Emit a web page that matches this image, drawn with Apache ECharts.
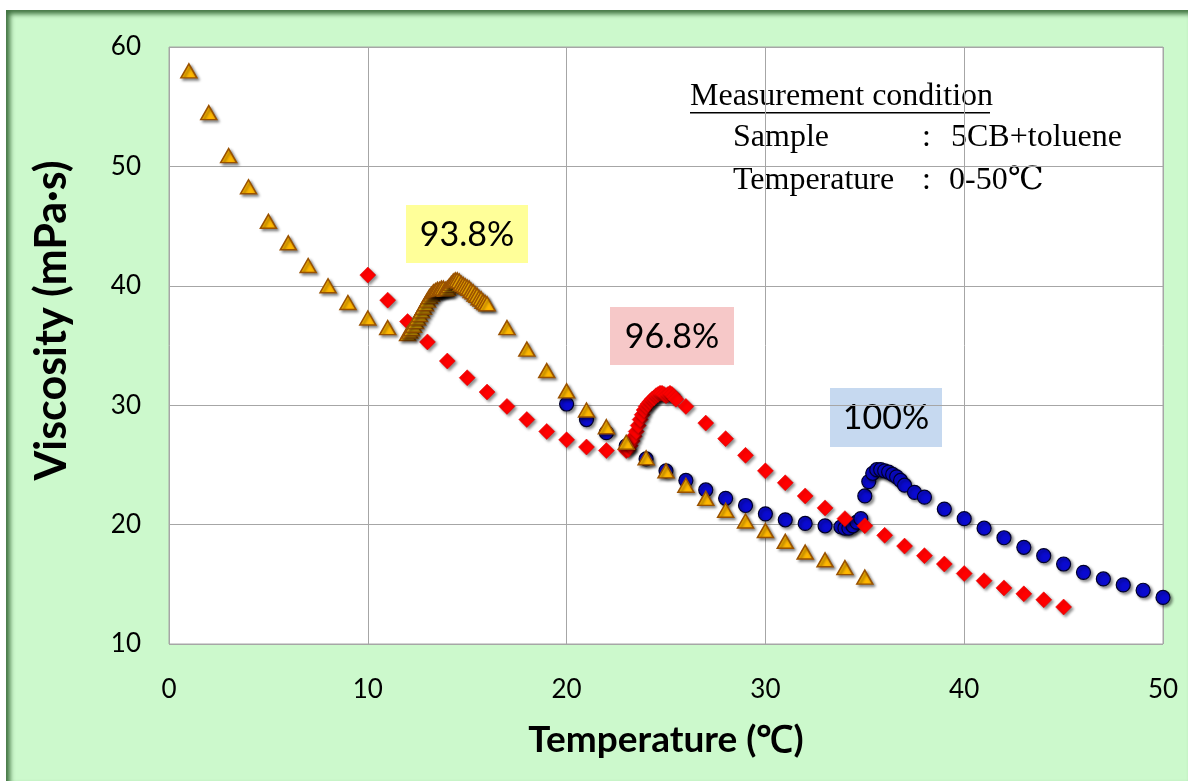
<!DOCTYPE html>
<html>
<head>
<meta charset="utf-8">
<script src="https://cdn.jsdelivr.net/npm/echarts@6/dist/echarts.min.js"></script>
<style>
  html, body { margin:0; padding:0; background:#ffffff; }
  #bg { position:absolute; left:6px; top:10px; width:1182px; height:771px; background:#CCF9CC;
        box-shadow: inset 4px 4px 5px rgba(40,90,40,0.85); }
  #chart { position:absolute; left:0; top:0; width:1188px; height:781px; }
</style>
</head>
<body>
<div id="bg"></div>
<div id="chart"></div>
<script>
// ---- Data ----
const xTicks = [0, 10, 20, 30, 40, 50];
const yTicks = [10, 20, 30, 40, 50, 60];

// 100% (blue circles)
const temp100 = [20,21,22,23,24,25,26,27,28,29,30,31,32,33,33.8,34.0,34.2,34.4,34.6,34.8,35.0,35.2,35.4,35.6,35.8,36.0,36.2,36.4,36.6,36.8,37.0,37.5,38,39,40,41,42,43,44,45,46,47,48,49,50];
const visc100 = [30.1,28.8,27.7,26.6,25.5,24.5,23.7,22.9,22.2,21.6,20.9,20.4,20.1,19.9,19.8,19.7,19.7,19.9,20.2,20.5,22.4,23.6,24.3,24.6,24.6,24.5,24.4,24.2,24.0,23.7,23.3,22.7,22.3,21.3,20.5,19.7,18.9,18.1,17.4,16.7,16.0,15.45,14.95,14.5,13.9];

// 96.8% (red diamonds)
const temp968 = [10,11,12,13,14,15,16,17,18,19,20,21,22,23.0,23.1,23.2,23.3,23.4,23.5,23.6,23.7,23.8,23.9,24.0,24.1,24.2,24.3,24.4,24.5,24.6,24.7,24.8,24.9,25.0,25.1,25.2,25.3,25.4,25.5,26,27,28,29,30,31,32,33,34,35,36,37,38,39,40,41,42,43,44,45];
const visc968 = [40.9,38.8,37.0,35.3,33.7,32.3,31.1,29.9,28.8,27.8,27.1,26.5,26.2,26.2,26.3,26.6,27.0,27.4,27.8,28.3,28.8,29.2,29.6,29.9,30.1,30.3,30.5,30.6,30.8,30.9,31.0,31.0,30.9,30.8,30.9,31.0,30.9,30.7,30.5,29.9,28.5,27.2,25.8,24.5,23.5,22.4,21.4,20.5,19.9,19.1,18.2,17.4,16.7,15.9,15.3,14.7,14.2,13.7,13.1];

// 93.8% (orange triangles)
const temp938 = [1,2,3,4,5,6,7,8,9,10,11,12.0,12.1,12.2,12.3,12.4,12.5,12.6,12.7,12.8,12.9,13.0,13.1,13.2,13.3,13.4,13.5,13.6,13.7,13.8,13.9,14.0,14.1,14.2,14.3,14.4,14.5,14.6,14.7,14.8,14.9,15.0,15.1,15.2,15.3,15.4,15.5,15.6,15.7,15.8,15.9,16,17,18,19,20,21,22,23,24,25,26,27,28,29,30,31,32,33,34,35];
const visc938 = [58.0,54.5,50.9,48.3,45.4,43.6,41.7,40.0,38.6,37.3,36.5,36.0,36.2,36.4,36.7,37.0,37.3,37.6,37.9,38.2,38.5,38.8,39.1,39.3,39.5,39.6,39.7,39.7,39.8,39.8,39.7,39.8,40.0,40.2,40.4,40.5,40.5,40.4,40.2,40.1,40.0,39.9,39.8,39.6,39.5,39.3,39.2,39.0,38.9,38.7,38.6,38.5,36.5,34.7,32.9,31.2,29.6,28.2,26.9,25.6,24.5,23.3,22.2,21.2,20.3,19.5,18.6,17.7,17.05,16.4,15.6];

const seriesNames = ['100%', '96.8%', '93.8%'];

function zip(xs, ys) { return xs.map((x, i) => [x, ys[i]]); }

const shadow = { shadowColor: 'rgba(0,0,0,0.45)', shadowBlur: 3, shadowOffsetX: 2, shadowOffsetY: 2 };
const LATO = 'Lato, "Open Sans", sans-serif';
const SERIF = '"Liberation Serif", "DejaVu Serif", serif';

const chart = echarts.init(document.getElementById('chart'));

function boxLabel(x, y, w, h, fill, text) {
  return {
    type: 'group', left: x, top: y,
    children: [
      { type: 'rect', shape: { x: 0, y: 0, width: w, height: h }, style: { fill: fill } },
      { type: 'text', x: w / 2, y: h / 2 + 1,
        style: { text: text, font: '34px ' + LATO, fill: '#000', textAlign: 'center', textVerticalAlign: 'middle' } }
    ]
  };
}

const option = {
  backgroundColor: 'transparent',
  animation: false,
  grid: { left: 169, top: 47, width: 994, height: 597, show: true, backgroundColor: '#ffffff', borderColor: '#A6A6A6', borderWidth: 1 },
  xAxis: {
    type: 'value', min: xTicks[0], max: xTicks[xTicks.length - 1], interval: 10,
    name: 'Temperature (℃)', nameLocation: 'middle', nameGap: 78,
    nameTextStyle: { fontFamily: LATO, fontWeight: 'bold', fontSize: 37, color: '#000' },
    axisLine: { show: false }, axisTick: { show: false },
    axisLabel: { fontFamily: LATO, fontSize: 26, color: '#000', margin: 33 },
    splitLine: { show: true, lineStyle: { color: '#A6A6A6', width: 1 } }
  },
  yAxis: {
    type: 'value', min: yTicks[0], max: yTicks[yTicks.length - 1], interval: 10,
    name: 'Viscosity (mPa·s)', nameLocation: 'middle', nameGap: 95,
    nameTextStyle: { fontFamily: LATO, fontWeight: 'bold', fontSize: 43, color: '#000', padding: [0, 0, 0, 50] },
    axisLine: { show: false }, axisTick: { show: false },
    axisLabel: { fontFamily: LATO, fontSize: 26, color: '#000', margin: 28 },
    splitLine: { show: true, lineStyle: { color: '#A6A6A6', width: 1 } }
  },
  series: [
    { name: seriesNames[0], type: 'scatter', data: zip(temp100, visc100), symbol: 'circle', symbolSize: 14,
      itemStyle: Object.assign({ color: '#0A0AD0', borderColor: '#00002A', borderWidth: 1.2, opacity: 1 }, shadow) },
    { name: seriesNames[1], type: 'scatter', data: zip(temp968, visc968), symbol: 'diamond', symbolSize: 16,
      itemStyle: Object.assign({ color: '#FF0000', borderColor: '#E00000', borderWidth: 0.5, opacity: 1 }, shadow) },
    { name: seriesNames[2], type: 'scatter', data: zip(temp938, visc938), symbol: 'triangle', symbolSize: [16, 14],
      itemStyle: Object.assign({ color: '#FFB800', borderColor: '#9A5200', borderWidth: 1.5, opacity: 1 }, shadow) }
  ],
  graphic: [
    boxLabel(406, 205, 122, 58, '#FFFF99', '93.8%'),
    boxLabel(610, 307, 124, 58, '#F6C8C8', '96.8%'),
    boxLabel(830, 388, 112, 59, '#C6D9F0', '100%'),
    { type: 'text', left: 690, top: 81, style: { text: 'Measurement condition', font: '32px ' + SERIF, fill: '#000' } },
    { type: 'rect', shape: { x: 690, y: 112, width: 300, height: 1.6 }, style: { fill: '#000' } },
    { type: 'text', left: 733, top: 122, style: { text: 'Sample', font: '32px ' + SERIF, fill: '#000' } },
    { type: 'text', left: 922, top: 122, style: { text: ':', font: '32px ' + SERIF, fill: '#000' } },
    { type: 'text', left: 951, top: 122, style: { text: '5CB+toluene', font: '32px ' + SERIF, fill: '#000' } },
    { type: 'text', left: 733, top: 165, style: { text: 'Temperature', font: '32px ' + SERIF, fill: '#000' } },
    { type: 'text', left: 922, top: 165, style: { text: ':', font: '32px ' + SERIF, fill: '#000' } },
    { type: 'text', left: 949, top: 165, style: { text: '0-50℃', font: '32px ' + SERIF, fill: '#000' } }
  ]
};
chart.setOption(option);
</script>
</body>
</html>
